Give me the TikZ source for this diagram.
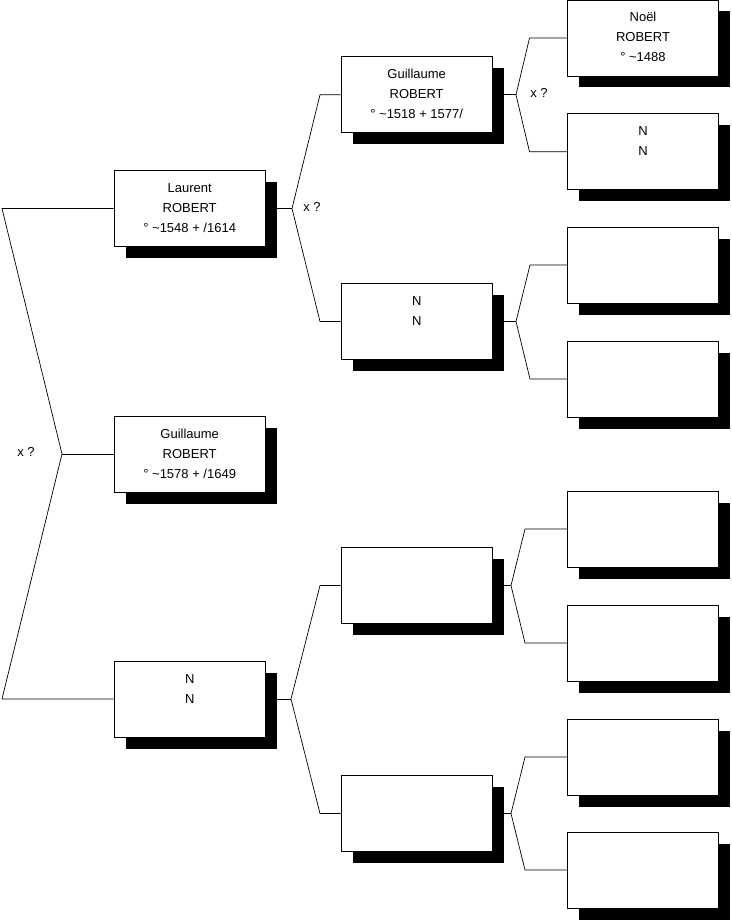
\documentclass[tikz,border=0pt]{standalone}
\usepackage{fontspec}
\setmainfont{Liberation Sans}
\usetikzlibrary{shadows}
\begin{document}
\begin{tikzpicture}[x=1pt,y=-1pt,
  pbox/.style={draw=black, fill=white, line width=0.8pt, minimum width=151.3pt, minimum height=76pt,
    inner sep=0pt, align=center, font=\fontsize{13}{20}\selectfont,
    general shadow={fill=black, shadow xshift=11.5pt, shadow yshift=-11.5pt}},
  conn/.style={draw=black, line width=0.7pt},
  xq/.style={font=\fontsize{13}{20}\selectfont, inner sep=0pt}]
\useasboundingbox (0,0) rectangle (731,920);
% level 1
\node[pbox] (root) at (189.7,454) {\strut Guillaume\\\strut ROBERT\\\strut ° \textasciitilde1578 + /1649};
\node[pbox] (fa) at (189.7,208.5) {\strut Laurent\\\strut ROBERT\\\strut ° \textasciitilde1548 + /1614};
\node[pbox] (mo) at (189.7,699) {\strut N\\\strut N\\\strut};
% level 2
\node[pbox] (ff) at (416.7,94.8) {\strut Guillaume\\\strut ROBERT\\\strut ° \textasciitilde1518 + 1577/};
\node[pbox] (fm) at (416.7,321.5) {\strut N\\\strut N\\\strut};
\node[pbox] (mf) at (416.7,585.5) {};
\node[pbox] (mm) at (416.7,813.5) {};
% level 3
\node[pbox] (fff) at (643,38) {\strut Noël\\\strut ROBERT\\\strut ° \textasciitilde1488};
\node[pbox] (ffm) at (643,151.7) {\strut N\\\strut N\\\strut};
\node[pbox] (fmf) at (643,265) {};
\node[pbox] (fmm) at (643,379) {};
\node[pbox] (mff) at (643,529) {};
\node[pbox] (mfm) at (643,643) {};
\node[pbox] (mmf) at (643,757) {};
\node[pbox] (mmm) at (643,870) {};
% fork coordinates
\coordinate (k0) at (62,454);
\coordinate (k0a) at (2,208.5);
\coordinate (k0b) at (2,699);
\coordinate (k1) at (292,208.5);
\coordinate (k1a) at (320,94.8);
\coordinate (k1b) at (320,321.5);
\coordinate (k2) at (291,699);
\coordinate (k2a) at (320,585.5);
\coordinate (k2b) at (320,813.5);
\coordinate (k3) at (516,94.8);
\coordinate (k3a) at (529.5,38);
\coordinate (k3b) at (529.5,151.7);
\coordinate (k4) at (516,321.5);
\coordinate (k4a) at (530,265);
\coordinate (k4b) at (530,379);
\coordinate (k5) at (511,585.5);
\coordinate (k5a) at (525,529);
\coordinate (k5b) at (525,643);
\coordinate (k6) at (511,813.5);
\coordinate (k6a) at (525,757);
\coordinate (k6b) at (525,870);
% connectors
\draw[conn] (root.west) -- (k0);
\draw[conn] (k0) -- (k0a) -- (fa.west);
\draw[conn] (k0) -- (k0b) -- (mo.west);
\draw[conn] (fa.east) -- (k1);
\draw[conn] (k1) -- (k1a) -- (ff.west);
\draw[conn] (k1) -- (k1b) -- (fm.west);
\draw[conn] (mo.east) -- (k2);
\draw[conn] (k2) -- (k2a) -- (mf.west);
\draw[conn] (k2) -- (k2b) -- (mm.west);
\draw[conn] (ff.east) -- (k3);
\draw[conn] (k3) -- (k3a) -- (fff.west);
\draw[conn] (k3) -- (k3b) -- (ffm.west);
\draw[conn] (fm.east) -- (k4);
\draw[conn] (k4) -- (k4a) -- (fmf.west);
\draw[conn] (k4) -- (k4b) -- (fmm.west);
\draw[conn] (mf.east) -- (k5);
\draw[conn] (k5) -- (k5a) -- (mff.west);
\draw[conn] (k5) -- (k5b) -- (mfm.west);
\draw[conn] (mm.east) -- (k6);
\draw[conn] (k6) -- (k6a) -- (mmf.west);
\draw[conn] (k6) -- (k6b) -- (mmm.west);
% labels
\node[xq] (q0) at (26,452) {x ?};
\node[xq] (q1) at (312,207) {x ?};
\node[xq] (q3) at (539,93) {x ?};
\end{tikzpicture}
\end{document}
